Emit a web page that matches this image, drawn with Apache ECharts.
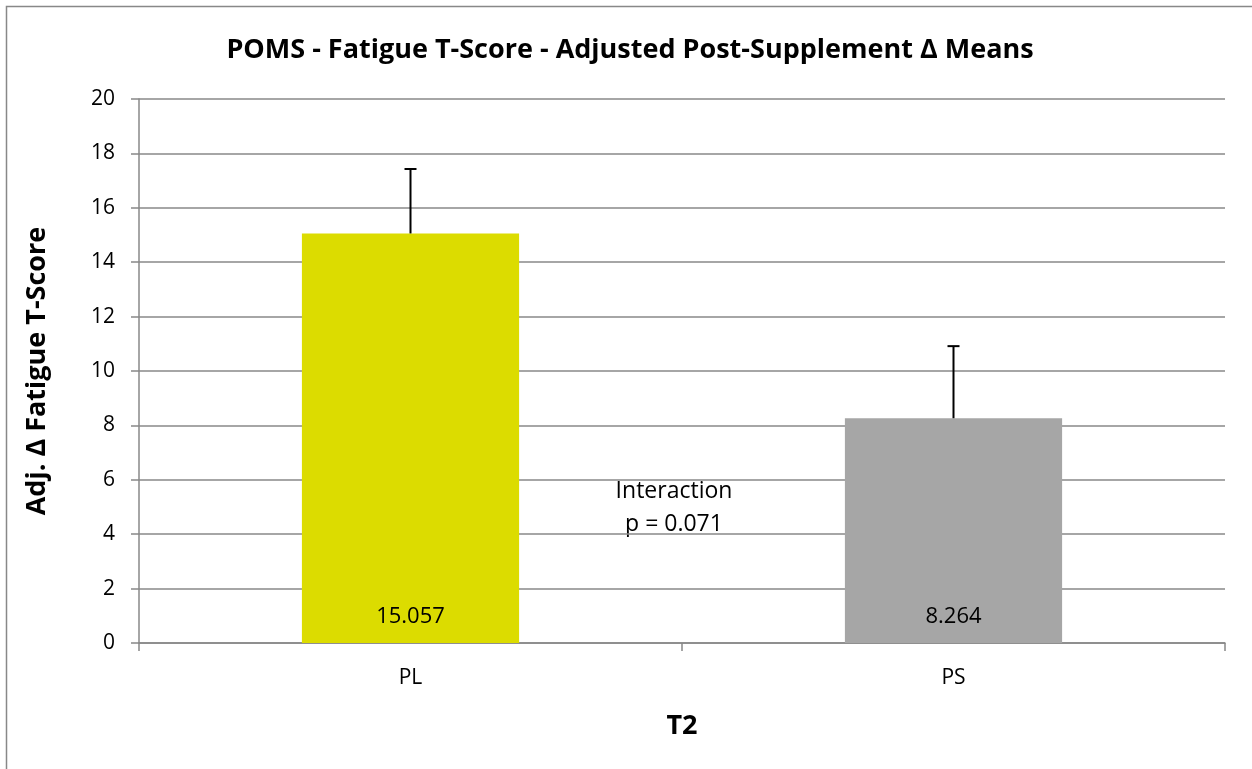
<!DOCTYPE html>
<html>
<head>
<meta charset="utf-8">
<script src="https://cdn.jsdelivr.net/npm/echarts@6/dist/echarts.min.js"></script>
<style>
  html, body { margin: 0; padding: 0; background: #fff; }
  #chart { width: 1252px; height: 769px; }
</style>
</head>
<body>
<div id="chart"></div>
<script>
// chart data
var categories = ['PL', 'PS']
var means = [15.057, 8.264]
var errors = [2.37, 2.65]
var barColors = ['#DCDC00', '#A6A6A6']
var yTicks = [0, 2, 4, 6, 8, 10, 12, 14, 16, 18, 20]

var font = '"Open Sans", "DejaVu Sans", sans-serif'
var chart = echarts.init(document.getElementById('chart'))

chart.setOption({
  animation: false,
  backgroundColor: '#fff',
  title: {
    text: 'POMS - Fatigue T-Score - Adjusted Post-Supplement Δ Means',
    left: 625,
    top: 32,
    textAlign: 'center',
    textStyle: { fontFamily: font, fontSize: 27, fontWeight: 'bold', color: '#000' }
  },
  graphic: [
    {
      type: 'rect',
      shape: { x: 6.5, y: 6.5, width: 1400, height: 900 },
      style: { fill: 'none', stroke: '#888', lineWidth: 1.5 },
      silent: true
    },
    {
      type: 'text',
      style: {
        text: 'Interaction\np = 0.071',
        x: 674,
        y: 475,
        textAlign: 'center',
        font: '23px ' + font,
        lineHeight: 33,
        fill: '#000'
      }
    }
  ],
  grid: { left: 139, right: 27, top: 99, bottom: 126 },
  xAxis: {
    type: 'category',
    data: categories,
    name: 'T2',
    nameLocation: 'middle',
    nameGap: 70,
    nameTextStyle: { fontFamily: font, fontSize: 27, fontWeight: 'bold', color: '#000' },
    axisLine: { lineStyle: { color: '#888', width: 1.5 } },
    axisTick: { show: true, length: 8, alignWithLabel: false, lineStyle: { color: '#888', width: 1.5 } },
    axisLabel: { fontFamily: font, fontSize: 21, color: '#000', margin: 25 }
  },
  yAxis: {
    type: 'value',
    min: yTicks[0],
    max: yTicks[yTicks.length - 1],
    interval: 2,
    name: 'Adj. Δ Fatigue T-Score',
    nameLocation: 'middle',
    nameGap: 88,
    nameRotate: 90,
    nameTextStyle: { fontFamily: font, fontSize: 27, fontWeight: 'bold', color: '#000' },
    axisLine: { show: true, lineStyle: { color: '#888', width: 1.5 } },
    axisTick: { show: true, length: 8, inside: false, lineStyle: { color: '#888', width: 1.5 } },
    axisLabel: { fontFamily: font, fontSize: 21, color: '#000', margin: 24 },
    splitLine: { lineStyle: { color: '#888', width: 1.5 } }
  },
  series: [
    {
      type: 'bar',
      barWidth: '40%',
      data: means.map(function (v, i) {
        return { value: v, itemStyle: { color: barColors[i] } }
      }),
      label: {
        show: true,
        position: 'insideBottom',
        distance: 15,
        fontFamily: font,
        fontSize: 22,
        color: '#000',
        formatter: function (p) { return p.value.toFixed(3) }
      },
      z: 2
    },
    {
      type: 'custom',
      data: means.map(function (v, i) { return [i, v, v + errors[i]] }),
      renderItem: function (params, api) {
        var base = api.coord([api.value(0), api.value(1)])
        var top = api.coord([api.value(0), api.value(2)])
        var half = 6
        return {
          type: 'group',
          children: [
            { type: 'line', shape: { x1: base[0], y1: base[1], x2: top[0], y2: top[1] },
              style: { stroke: '#000', lineWidth: 2 } },
            { type: 'line', shape: { x1: top[0] - half, y1: top[1], x2: top[0] + half, y2: top[1] },
              style: { stroke: '#000', lineWidth: 2 } }
          ]
        }
      },
      z: 3
    }
  ]
})
</script>
</body>
</html>
